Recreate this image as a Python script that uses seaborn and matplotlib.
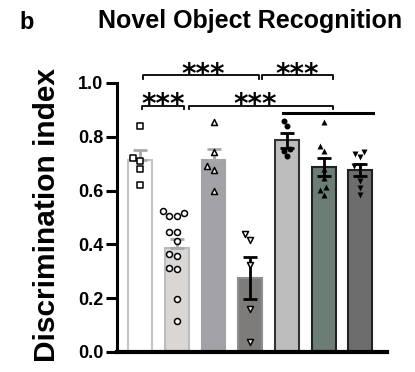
import numpy as np
import pandas as pd
import matplotlib
matplotlib.use("Agg")
import matplotlib.pyplot as plt
import seaborn as sns

# ---- data ----
groups = ["G1", "G2", "G3", "G4", "G5", "G6", "G7"]
g1 = [0.84, 0.72, 0.71, 0.68, 0.62]
g2 = [0.505, 0.505, 0.523, 0.516, 0.445, 0.445, 0.411, 0.355, 0.363, 0.307, 0.314, 0.198, 0.116]
g3 = [0.856, 0.744, 0.677, 0.69, 0.598]
g4 = [0.437, 0.415, 0.325, 0.16, 0.037]
g5 = [0.841, 0.86, 0.755, 0.748, 0.729]
g6 = [0.856, 0.766, 0.748, 0.68, 0.647, 0.613, 0.602, 0.583]
g7 = [0.725, 0.736, 0.744, 0.692, 0.692, 0.636, 0.609, 0.583]
yticks = [0.0, 0.2, 0.4, 0.6, 0.8, 1.0]
title = "Novel Object Recognition"
ylabel = "Discrimination index"
panel = "b"
sig = "***"

values = [g1, g2, g3, g4, g5, g6, g7]
df = pd.DataFrame({"group": np.repeat(groups, [len(v) for v in values]),
                   "value": np.concatenate(values)})

face = ["#ffffff", "#d9d6d4", "#a3a2a7", "#7d7c7a", "#bdbdbd", "#6b7d74", "#6e6d6d"]
edge = ["#c4c4c4", "#bcbcbc", "#a3a2a7", "#8e8e8e", "#333333", "#222222", "#222222"]
ecol = ["#a8a8a8", "#a8a8a8", "#a8a8a8", "#000000", "#000000", "#000000", "#000000"]
markers = ["s", "o", "^", "v", "o", "^", "v"]
mface = ["white", "white", "white", "white", "black", "black", "black"]

plt.rcParams['font.family'] = ['Liberation Sans', 'DejaVu Sans']

fig = plt.figure(figsize=(4.15, 3.72), dpi=100)
ax = fig.add_axes([0.282, 0.0538, 0.651, 0.7232])

sns.barplot(data=df, x="group", y="value", order=groups, errorbar=None,
            width=0.65, ax=ax, linewidth=1.5)
for i, p in enumerate(ax.patches):
    p.set_facecolor(face[i])
    p.set_edgecolor(edge[i])
    p.set_zorder(1)

stats = df.groupby("group")["value"].agg(["mean", "sem"]).reindex(groups)
for i, g in enumerate(groups):
    m, s = stats.loc[g, "mean"], stats.loc[g, "sem"]
    lower = 0 if i < 3 else s
    ax.errorbar(i, m, yerr=[[lower], [s]], color=ecol[i], capsize=4.7,
                elinewidth=2, capthick=2, zorder=3)
    sub = df[df.group == g]
    sns.swarmplot(data=sub, x="group", y="value", order=groups, ax=ax,
                  marker=markers[i], color=mface[i], edgecolor="black",
                  linewidth=1.1 if i < 4 else 0, size=4.3, zorder=4)

ax.set_xlim(-0.63, 6.73)
ax.set_ylim(0, 1.0)
ax.set_yticks(yticks)
ax.set_yticklabels([f"{t:.1f}" for t in yticks], fontsize=13, fontweight="bold")
ax.set_xticks([])
ax.set_xlabel("")
ax.set_ylabel(ylabel, fontsize=21.5, fontweight="bold")
ax.yaxis.set_label_coords(-0.207, 0.51)
ax.tick_params(axis="y", length=8, width=2.2, pad=2)
for sp in ["top", "right"]:
    ax.spines[sp].set_visible(False)
ax.spines["left"].set_linewidth(2.2)
ax.spines["bottom"].set_linewidth(3)

# significance brackets
def bracket(x1, x2, y, h, tx, ty):
    ax.plot([x1, x1, x2, x2], [y - h, y, y, y - h], color="black", lw=1.3,
            clip_on=False, zorder=5)
    ax.text(tx, ty, sig, ha="center", va="baseline", fontsize=20,
            fontweight="bold", family="DejaVu Sans", clip_on=False)

bracket(0.08, 3.24, 1.028, 0.012, 1.72, 1.000)
bracket(3.32, 5.25, 1.028, 0.012, 4.27, 1.000)
bracket(0.05, 1.2, 0.916, 0.012, 0.62, 0.888)
bracket(1.33, 5.25, 0.916, 0.012, 3.13, 0.888)
ax.plot([3.89, 6.34], [0.89, 0.89], color="black", lw=2.2, clip_on=False, zorder=5)

fig.text(0.048, 0.922, panel, fontsize=17, fontweight="bold", ha="left", va="baseline")
fig.text(0.602, 0.925, title, fontsize=18, fontweight="bold", ha="center", va="baseline")

fig.savefig("out.png", dpi=100)
